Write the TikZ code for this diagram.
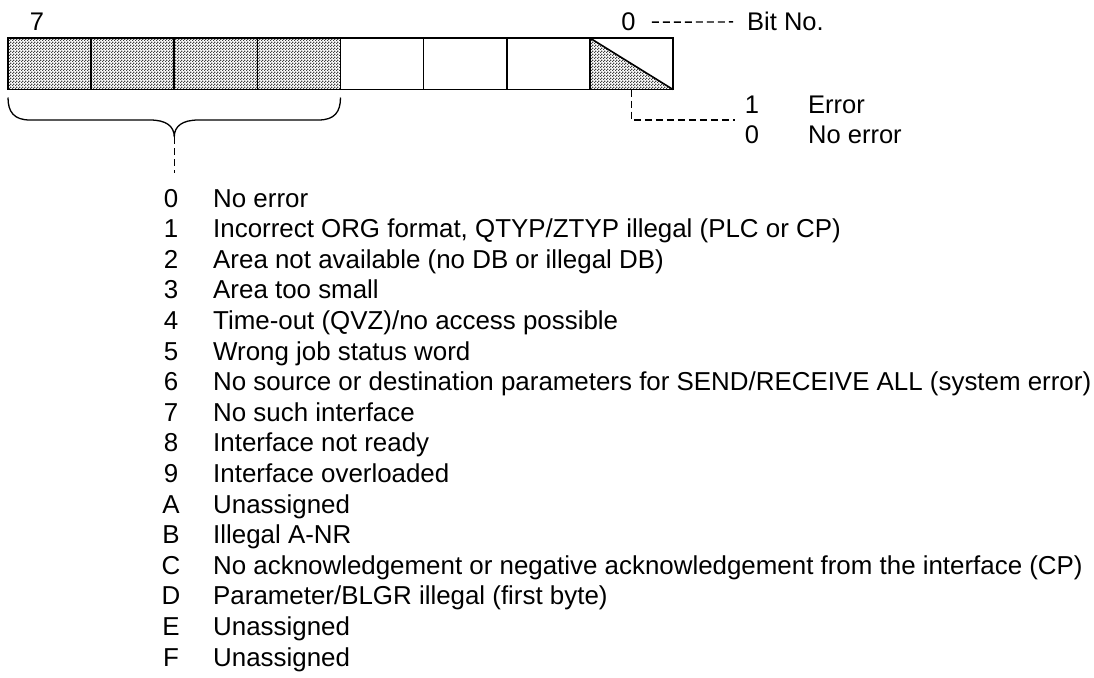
\documentclass[tikz,border=0pt]{standalone}
\usepackage{fontspec}
\setmainfont{Liberation Sans}
\usetikzlibrary{patterns}
\pgfdeclarepatternformonly{finedots}{\pgfqpoint{0pt}{0pt}}{\pgfqpoint{3pt}{3pt}}{\pgfqpoint{3pt}{3pt}}{%
  \pgfpathrectangle{\pgfqpoint{0pt}{0pt}}{\pgfqpoint{1.5pt}{1.5pt}}%
  \pgfpathrectangle{\pgfqpoint{1.5pt}{1.5pt}}{\pgfqpoint{1.5pt}{1.5pt}}%
  \pgfusepath{fill}}
\begin{document}
\begin{tikzpicture}[x=1pt,y=-1pt,
  cellbox/.style={draw,line width=1.6pt,minimum width=83.125pt,minimum height=51.5pt,inner sep=0pt,outer sep=0pt},
  shaded/.style={pattern=finedots,pattern color=black!75},
  lbl/.style={inner sep=0pt,font=\fontsize{25.5}{30.6}\selectfont},
  lst/.style={inner sep=0pt,font=\fontsize{25.9}{30.6}\selectfont},
  dashln/.style={line width=1.4pt,dash pattern=on 7pt off 4pt}
]
\useasboundingbox (0,0) rectangle (1094,677);
% register cells (bit 7 .. bit 0)
\foreach \i/\n in {0/c7,1/c6,2/c5,3/c4,4/c3,5/c2,6/c1,7/c0}{
  \node[cellbox] (\n) at ({8+83.125*\i+41.5625},63.75) {};
}
\foreach \n in {c7,c6,c5,c4}{
  \fill[shaded] (\n.north west) rectangle (\n.south east);
}
\fill[shaded] (c0.north west) -- (c0.south east) -- (c0.south west) -- cycle;
\draw[line width=1.6pt] (c0.north west) -- (c0.south east);
\foreach \n in {c7,c6,c5,c4,c3,c2,c1,c0}{
  \draw[line width=1.6pt] (\n.north west) rectangle (\n.south east);
}
% top labels
\node[lbl,anchor=base] (seven) at (37,31) {7};
\node[lbl,anchor=base] (zero) at (628.5,31) {0};
\node[lbl,anchor=base west] (bitno) at (747,31) {Bit No.};
\draw[dashln,shorten <=16pt,shorten >=14pt] (zero.east) -- (bitno.west);
% error bit
\node[lbl,anchor=base] (one) at (752,113) {1};
\node[lbl,anchor=base west] (errtxt) at (808,113) {Error};
\node[lbl,anchor=base] (nul) at (752,143) {0};
\node[lbl,anchor=base west] (noerr) at (808,143) {No error};
\coordinate (errend) at (735,120);
\draw[dashln] (c0.south) |- (errend);
% brace
\coordinate (tip) at (174.25,137);
\coordinate (bend) at (174.25,173);
\draw[line width=1.3pt] (c7.south west) ++(0,8)
  .. controls (8,112) and (14,120) .. (30,120) -- (150,120)
  .. controls (166,120) and (174.25,126) .. (tip)
  .. controls (174.25,126) and (182.5,120) .. (198.5,120) -- (318.5,120)
  .. controls (334.5,120) and (340.5,112) .. (340.5,97.5);
\draw[dashln] (tip) -- (bend);
% list
\foreach \k/\t [count=\j from 0] in {
 0/{No error},
 1/{Incorrect ORG format, QTYP/ZTYP illegal (PLC or CP)},
 2/{Area not available (no DB or illegal DB)},
 3/{Area too small},
 4/{Time-out (QVZ)/no access possible},
 5/{Wrong job status word},
 6/{No source or destination parameters for SEND/RECEIVE ALL (system error)},
 7/{No such interface},
 8/{Interface not ready},
 9/{Interface overloaded},
 A/{Unassigned},
 B/{Illegal A-NR},
 C/{No acknowledgement or negative acknowledgement from the interface (CP)},
 D/{Parameter/BLGR illegal (first byte)},
 E/{Unassigned},
 F/{Unassigned}}{
  \node[lst,anchor=base] (n\j) at (171,{207+30.6*\j}) {\k};
  \node[lst,anchor=base west] (t\j) at (213,{207+30.6*\j}) {\t};
}
\end{tikzpicture}
\end{document}
